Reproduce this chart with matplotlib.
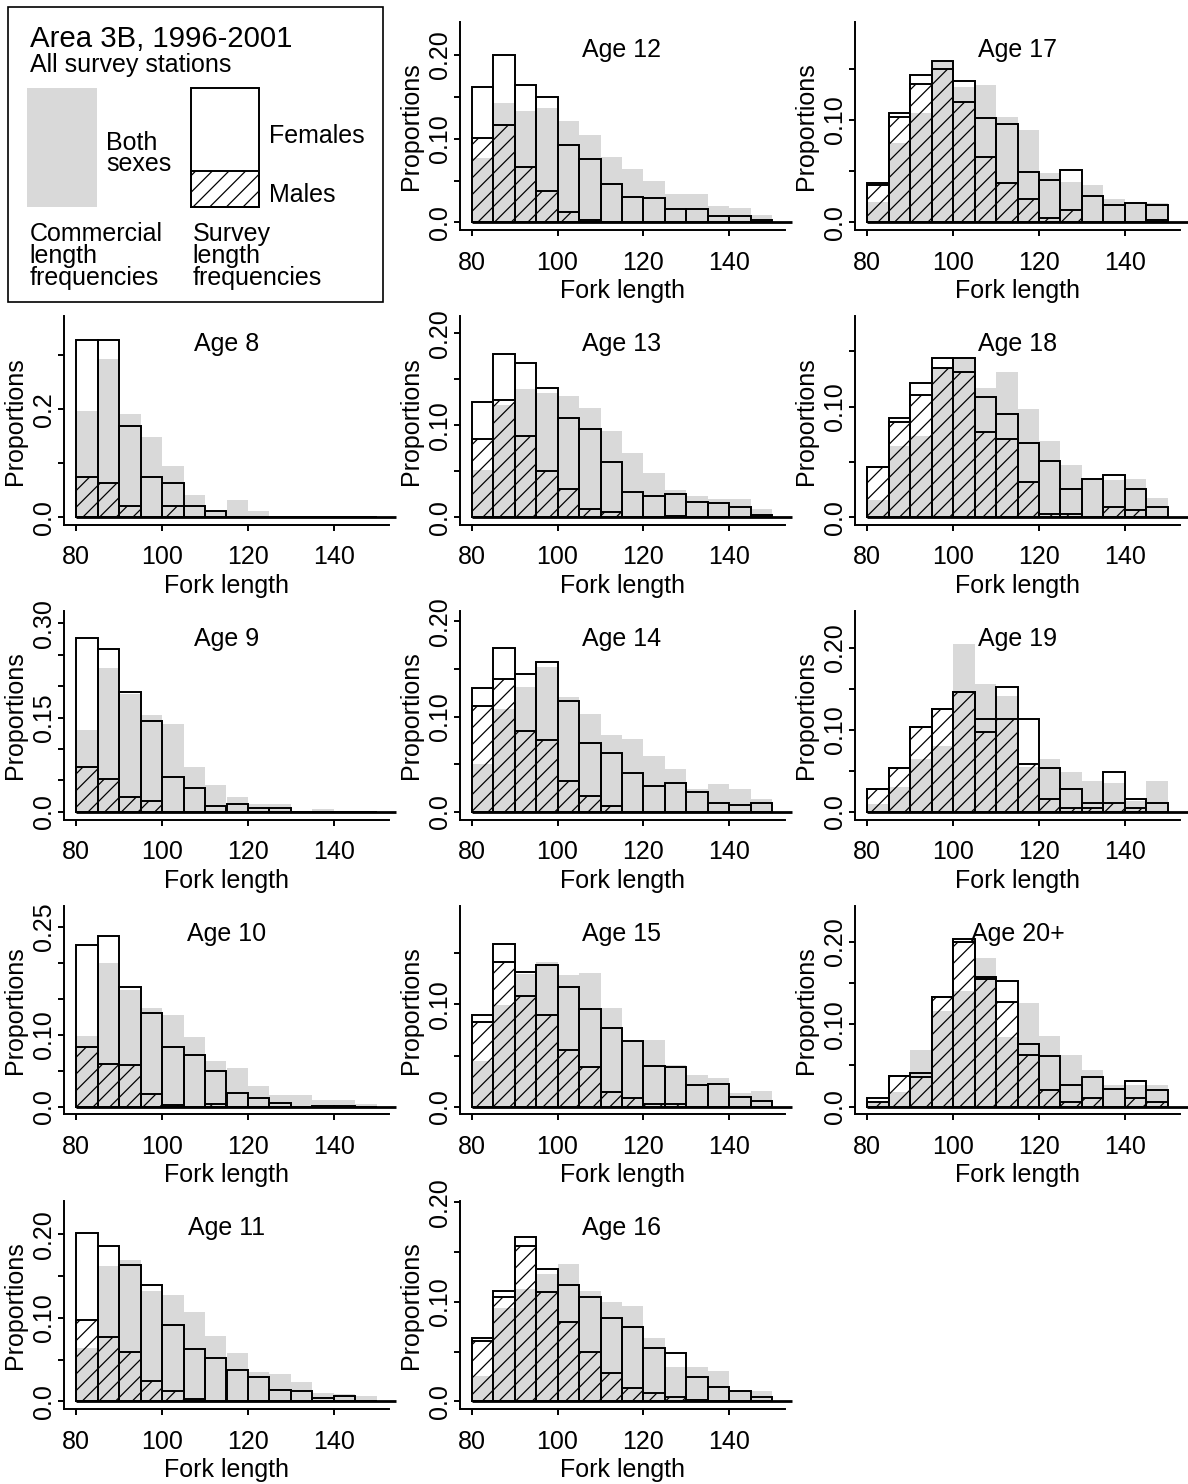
import matplotlib
matplotlib.use('Agg')
import matplotlib.pyplot as plt
from matplotlib.patches import Rectangle
import numpy as np

plt.rcParams['font.family'] = ['Liberation Sans', 'DejaVu Sans']
plt.rcParams['hatch.linewidth'] = 0.9

# left edges of the 5 cm length classes
bins = np.arange(80, 150, 5)

# commercial (both sexes), survey total, survey males -- proportions per class
com_08 = [0.197, 0.2935, 0.192, 0.149, 0.0954, 0.041, 0.011, 0.0314, 0.0117, 0, 0, 0, 0, 0]
tot_08 = [0.328, 0.328, 0.169, 0.075, 0.064, 0.0215, 0.011, 0, 0, 0, 0, 0, 0, 0]
mal_08 = [0.075, 0.064, 0.0215, 0, 0.0215, 0, 0, 0, 0, 0, 0, 0, 0, 0]

com_09 = [0.130, 0.2284, 0.188, 0.1537, 0.139, 0.072, 0.043, 0.023, 0.013, 0.013, 0.002, 0.005, 0.002, 0.002]
tot_09 = [0.276, 0.259, 0.1905, 0.145, 0.0558, 0.0384, 0.009, 0.012, 0.0063, 0.0063, 0, 0, 0, 0]
mal_09 = [0.071, 0.053, 0.023, 0.0168, 0, 0, 0, 0, 0, 0, 0, 0, 0, 0]

com_10 = [0.099, 0.200, 0.163, 0.138, 0.127, 0.097, 0.063, 0.054, 0.029, 0.016, 0.016, 0.009, 0.009, 0.003]
tot_10 = [0.2258, 0.238, 0.166, 0.130, 0.0825, 0.0723, 0.050, 0.0184, 0.0115, 0.005, 0, 0.001, 0.001, 0]
mal_10 = [0.0834, 0.060, 0.0576, 0.0175, 0.002, 0, 0.004, 0, 0, 0, 0, 0, 0, 0]

com_11 = [0.064, 0.162, 0.169, 0.132, 0.127, 0.107, 0.0788, 0.058, 0.035, 0.033, 0.0228, 0.010, 0.0092, 0.006]
tot_11 = [0.202, 0.186, 0.163, 0.140, 0.0912, 0.0624, 0.052, 0.0372, 0.0288, 0.0136, 0.0128, 0.004, 0.0068, 0]
mal_11 = [0.0972, 0.0768, 0.0588, 0.0248, 0.0128, 0.0032, 0, 0, 0, 0, 0, 0, 0, 0]

com_12 = [0.077, 0.1426, 0.1335, 0.137, 0.1216, 0.1038, 0.078, 0.064, 0.0495, 0.0337, 0.0337, 0.0198, 0.0178, 0.0087]
tot_12 = [0.162, 0.200, 0.164, 0.150, 0.093, 0.076, 0.0455, 0.0305, 0.029, 0.016, 0.016, 0.008, 0.008, 0.003]
mal_12 = [0.101, 0.1157, 0.0665, 0.038, 0.013, 0.003, 0, 0, 0, 0, 0, 0, 0, 0]

com_13 = [0.0514, 0.1216, 0.1396, 0.1349, 0.1313, 0.119, 0.0939, 0.0694, 0.0478, 0.0291, 0.0234, 0.0198, 0.0198, 0.009]
tot_13 = [0.125, 0.178, 0.168, 0.1406, 0.108, 0.0957, 0.0597, 0.0273, 0.0234, 0.0252, 0.0165, 0.0155, 0.0108, 0.002]
mal_13 = [0.0845, 0.127, 0.088, 0.0507, 0.031, 0.009, 0.0054, 0, 0, 0.001, 0, 0, 0, 0]

com_14 = [0.05, 0.108, 0.1306, 0.152, 0.121, 0.103, 0.0806, 0.076, 0.0587, 0.0448, 0.0243, 0.029, 0.024, 0.0135]
tot_14 = [0.130, 0.172, 0.145, 0.157, 0.116, 0.0726, 0.062, 0.041, 0.027, 0.030, 0.021, 0.009, 0.007, 0.0094]
mal_14 = [0.111, 0.140, 0.0847, 0.0757, 0.0323, 0.0167, 0.006, 0, 0, 0, 0, 0, 0, 0]

com_15 = [0.045, 0.099, 0.130, 0.142, 0.129, 0.1305, 0.0964, 0.063, 0.0656, 0.0405, 0.031, 0.028, 0.013, 0.0156]
tot_15 = [0.090, 0.159, 0.1315, 0.1386, 0.1175, 0.0958, 0.077, 0.0643, 0.0396, 0.0383, 0.0211, 0.022, 0.0091, 0.0055]
mal_15 = [0.0828, 0.142, 0.108, 0.090, 0.055, 0.039, 0.0146, 0.008, 0.003, 0.003, 0, 0, 0, 0]

com_16 = [0.025, 0.094, 0.113, 0.128, 0.1376, 0.111, 0.0997, 0.0956, 0.0638, 0.0346, 0.0346, 0.0309, 0.010, 0.010]
tot_16 = [0.0638, 0.111, 0.165, 0.133, 0.1168, 0.105, 0.0836, 0.0748, 0.0534, 0.049, 0.0248, 0.0148, 0.0104, 0.004]
mal_16 = [0.0604, 0.105, 0.156, 0.1097, 0.080, 0.050, 0.0285, 0.0134, 0.008, 0.004, 0.0017, 0, 0, 0]

com_17 = [0.02, 0.078, 0.107, 0.158, 0.1325, 0.134, 0.103, 0.090, 0.048, 0.0396, 0.0364, 0.0227, 0.020, 0.0195]
tot_17 = [0.039, 0.107, 0.1445, 0.1575, 0.138, 0.1016, 0.0964, 0.0494, 0.0412, 0.051, 0.026, 0.0172, 0.0195, 0.0172]
mal_17 = [0.0367, 0.103, 0.1357, 0.150, 0.118, 0.064, 0.0386, 0.0234, 0.004, 0.0123, 0, 0, 0, 0.0026]

com_18 = [0.0153, 0.064, 0.0736, 0.136, 0.145, 0.1165, 0.1315, 0.0976, 0.0685, 0.0468, 0.035, 0.034, 0.035, 0.0174]
tot_18 = [0.045, 0.0895, 0.1216, 0.144, 0.144, 0.109, 0.093, 0.067, 0.051, 0.0255, 0.0348, 0.0384, 0.0255, 0.0093]
mal_18 = [0.045, 0.0865, 0.111, 0.135, 0.1315, 0.0769, 0.0706, 0.0315, 0.003, 0.003, 0, 0.0093, 0.0063, 0]

com_19 = [0.009, 0.03, 0.064, 0.08, 0.2044, 0.156, 0.141, 0.055, 0.064, 0.049, 0.038, 0.0346, 0.013, 0.038]
tot_19 = [0.0278, 0.054, 0.103, 0.1247, 0.1465, 0.1135, 0.1517, 0.1135, 0.054, 0.0278, 0.011, 0.0483, 0.016, 0.011]
mal_19 = [0.0278, 0.054, 0.103, 0.1247, 0.1465, 0.097, 0.1135, 0.0587, 0.016, 0.005, 0.005, 0.011, 0.005, 0]

com_20 = [0.004, 0.018, 0.069, 0.116, 0.140, 0.180, 0.084, 0.126, 0.086, 0.0622, 0.044, 0.026, 0.026, 0.026]
tot_20 = [0.010, 0.037, 0.041, 0.1325, 0.2036, 0.1574, 0.1526, 0.0763, 0.061, 0.026, 0.036, 0.0209, 0.031, 0.0205]
mal_20 = [0.006, 0.037, 0.036, 0.1325, 0.1996, 0.1546, 0.1273, 0.0622, 0.0205, 0.005, 0.010, 0, 0.010, 0.005]

ages = ['8', '9', '10', '11', '12', '13', '14', '15', '16', '17', '18', '19', '20+']
commercial = [com_08, com_09, com_10, com_11, com_12, com_13, com_14, com_15, com_16, com_17, com_18, com_19, com_20]
survey = [tot_08, tot_09, tot_10, tot_11, tot_12, tot_13, tot_14, tot_15, tot_16, tot_17, tot_18, tot_19, tot_20]
males = [mal_08, mal_09, mal_10, mal_11, mal_12, mal_13, mal_14, mal_15, mal_16, mal_17, mal_18, mal_19, mal_20]

# upper y limit of each panel and the tick labels that are printed
ytop = [0.358, 0.307, 0.269, 0.2315, 0.2303, 0.210, 0.2027, 0.189, 0.194, 0.1886, 0.1747, 0.235, 0.2344]
ystep = [0.1, 0.05, 0.05, 0.05, 0.05, 0.05, 0.05, 0.05, 0.05, 0.05, 0.05, 0.05, 0.05]
ylabs = [
    {0.0: '0.0', 0.2: '0.2'},
    {0.0: '0.0', 0.15: '0.15', 0.30: '0.30'},
    {0.0: '0.0', 0.10: '0.10', 0.25: '0.25'},
    {0.0: '0.0', 0.10: '0.10', 0.20: '0.20'},
    {0.0: '0.0', 0.10: '0.10', 0.20: '0.20'},
    {0.0: '0.0', 0.10: '0.10', 0.20: '0.20'},
    {0.0: '0.0', 0.10: '0.10', 0.20: '0.20'},
    {0.0: '0.0', 0.10: '0.10'},
    {0.0: '0.0', 0.10: '0.10', 0.20: '0.20'},
    {0.0: '0.0', 0.10: '0.10'},
    {0.0: '0.0', 0.10: '0.10'},
    {0.0: '0.0', 0.10: '0.10', 0.20: '0.20'},
    {0.0: '0.0', 0.10: '0.10', 0.20: '0.20'},
]
# grid cell (row, col) of each age
cells = [(1, 0), (2, 0), (3, 0), (4, 0),
         (0, 1), (1, 1), (2, 1), (3, 1), (4, 1),
         (0, 2), (1, 2), (2, 2), (3, 2)]

GREY = '#D9D9D9'
FW, FH = 1188, 1484
FS = 18
LW = 1.4

fig = plt.figure(figsize=(FW / 100, FH / 100), dpi=100)


def px_rect(left, top, w, h):
    return [left / FW, 1 - (top + h) / FH, w / FW, h / FH]


AW, AH = 325, 208.5
for i, age in enumerate(ages):
    r, c = cells[i]
    L = 64 + c * 395.5
    T = 21.7 + r * 294.7
    ax = fig.add_axes(px_rect(L, T, AW, AH))
    ax.patch.set_alpha(0)

    ax.bar(bins, survey[i], width=5, align='edge', color='white', edgecolor='none', zorder=1)
    ax.bar(bins, commercial[i], width=5, align='edge', color=GREY, edgecolor='none', zorder=2)
    ax.bar(bins, males[i], width=5, align='edge', facecolor='none', edgecolor='black',
           hatch='//', linewidth=LW, zorder=3)
    ax.bar(bins, survey[i], width=5, align='edge', facecolor='none', edgecolor='black',
           linewidth=LW, zorder=4)

    ax.set_xlim(77.2, 152.8)
    Y = ytop[i]
    ax.set_ylim(-0.04 * Y, 1.04 * Y)

    # baseline runs from the first class to the edge of the figure cell
    x0 = (80 - 77.2) / 75.6
    x1 = ((c + 1) * 396 - L) / AW
    ax.plot([x0, x1], [0, 0], transform=ax.get_yaxis_transform(), color='black',
            lw=2.0, clip_on=False, zorder=5, solid_capstyle='butt')

    for s in ['top', 'right']:
        ax.spines[s].set_visible(False)
    for s in ['left', 'bottom']:
        ax.spines[s].set_linewidth(LW)

    ax.set_xticks([80, 100, 120, 140])
    ticks = np.round(np.arange(0, 1.04 * Y + 1e-9, ystep[i]), 3)
    labs = [ylabs[i].get(round(t, 3), '') for t in ticks]
    ax.set_yticks(ticks, labs)
    ax.tick_params(axis='both', labelsize=FS, width=LW, length=4.5)
    ax.tick_params(axis='x', pad=10.3)
    ax.tick_params(axis='y', pad=1.2)
    plt.setp(ax.get_yticklabels(), rotation=90, va='center')

    ax.set_ylabel('Proportions', fontsize=FS)
    ax.yaxis.set_label_coords(-36.7 / AW, 0.5)
    ax.set_xlabel('Fork length', fontsize=FS)
    ax.xaxis.set_label_coords(0.5, -49 / AH)

    ax.text(0.5, 1 - 35 / AH, 'Age ' + age, transform=ax.transAxes, ha='center',
            va='baseline', fontsize=FS, zorder=6)

# key in the top-left cell, drawn in pixel coordinates
# (va='baseline' on a multi-line text puts the last line on y)
lg = fig.add_axes([0, 0, 1, 1], zorder=-1)
lg.set_xlim(0, FW)
lg.set_ylim(FH, 0)
lg.axis('off')
lg.add_patch(Rectangle((8.3, 7.3), 374.4, 294.4, facecolor='none', edgecolor='black', lw=1.2))
lg.text(29.5, 46.7, 'Area 3B, 1996-2001', fontsize=21.2, va='baseline')
lg.text(29.5, 71.7, 'All survey stations', fontsize=FS, va='baseline')
lg.add_patch(Rectangle((26.7, 88.3), 70.6, 119, facecolor=GREY, edgecolor='none'))
lg.text(106, 170.7, 'Both\nsexes', fontsize=FS, va='baseline', linespacing=0.85)
lg.add_patch(Rectangle((191, 88.3), 68.3, 118.4, facecolor='white', edgecolor='black', lw=LW))
lg.add_patch(Rectangle((191, 171), 68.3, 35.7, facecolor='none', edgecolor='black', lw=LW, hatch='//'))
lg.text(269.3, 142.7, 'Females', fontsize=FS, va='baseline')
lg.text(269.3, 201.7, 'Males', fontsize=FS, va='baseline')
lg.text(29.3, 285, 'Commercial\nlength\nfrequencies', fontsize=FS, va='baseline', linespacing=0.9)
lg.text(192.7, 285, 'Survey\nlength\nfrequencies', fontsize=FS, va='baseline', linespacing=0.9)

fig.savefig('out.png', dpi=100)
